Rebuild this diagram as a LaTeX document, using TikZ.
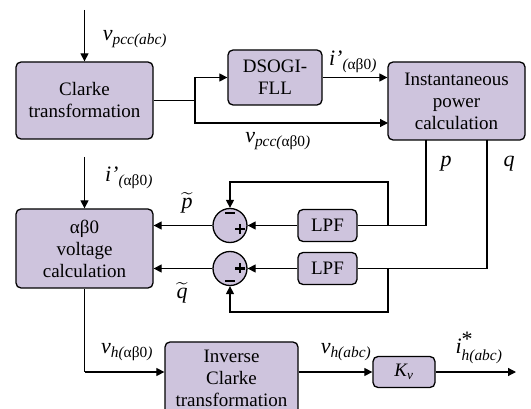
\documentclass[tikz,border=0pt]{standalone}
\usepackage{amsmath}
\usepackage{fontspec}
\setmainfont{Liberation Serif}
\usetikzlibrary{arrows.meta}
\definecolor{boxfill}{RGB}{206,196,221}
\begin{document}
\begin{tikzpicture}[x=1pt,y=-1pt,
  blk/.style={draw, line width=1.3pt, rounded corners=5pt, fill=boxfill, align=center,
    font=\fontsize{19}{22}\selectfont, inner sep=0pt},
  sumj/.style={draw, line width=1.3pt, circle, fill=boxfill, minimum size=34pt, inner sep=0pt},
  wire/.style={line width=1.2pt},
  arr/.style={wire, -{Triangle[length=8pt,width=8pt]}},
  lab/.style={font=\fontsize{22}{22}\selectfont, inner sep=0pt},
  sgn/.style={line width=2.2pt}]
\useasboundingbox (0,0) rectangle (531,409);

% blocks
\node[blk, minimum width=137pt, minimum height=77pt] (clarke) at (84.5,100.5) {Clarke\\transformation};
\node[blk, minimum width=94pt, minimum height=55pt] (dsogi) at (275,77.5) {DSOGI-\\FLL};
\node[blk, minimum width=137pt, minimum height=78pt] (inst) at (456.5,101) {Instantaneous\\power\\calculation};
\node[blk, minimum width=59pt, minimum height=32pt] (lpf1) at (327.5,225.5) {LPF};
\node[blk, minimum width=59pt, minimum height=32pt] (lpf2) at (327.5,268.5) {LPF};
\node[blk, minimum width=137pt, minimum height=79pt] (abv) at (84.5,248.5) {αβ0\\voltage\\calculation};
\node[blk, minimum width=133pt, minimum height=72pt, text depth=0pt] (inv) at (231.5,378) {Inverse\\Clarke\\transformation};
\node[blk, minimum width=62pt, minimum height=31pt] (kv) at (404,372) {$\textit{K}_{\textit{v}}$};

\node[sumj] (sum1) at (230,225.5) {};
\node[sumj] (sum2) at (230,268.5) {};

% signs
\draw[sgn] (225,213) -- (235,213);
\draw[sgn] (235,229) -- (245,229) (240,224) -- (240,234);
\draw[sgn] (235,268.5) -- (245,268.5) (240,263.5) -- (240,273.5);
\draw[sgn] (225,281) -- (235,281);

% coordinates
\coordinate (in1) at (84.5,10);
\coordinate (br1) at (195,100.5);
\coordinate (vin) at (388,123);
\coordinate (ptop) at (426,140);
\coordinate (qtop) at (487,140);
\coordinate (fb1) at (388,225.5);
\coordinate (fb1t) at (388,182);
\coordinate (fb2) at (388,268.5);
\coordinate (fb2b) at (388,312);
\coordinate (in2) at (84.5,157);
\coordinate (vh) at (84.5,372);
\coordinate (out) at (516,372);

% connectors
\draw[arr] (in1) -- (clarke.north);
\draw[wire] (clarke.east) -- (br1);
\draw[arr] (br1) |- (dsogi.west);
\draw[arr] (br1) |- (vin);
\draw[arr] (dsogi.east) -- (dsogi.east -| inst.west);
\draw[wire] (ptop) |- (lpf1.east);
\draw[wire] (qtop) |- (lpf2.east);
\draw[arr] (fb1) -- (fb1t) -| (sum1.north);
\draw[arr] (fb2) -- (fb2b) -| (sum2.south);
\draw[arr] (lpf1.west) -- (sum1.east);
\draw[arr] (lpf2.west) -- (sum2.east);
\draw[arr] (sum1.west) -- (sum1.west -| abv.east);
\draw[arr] (sum2.west) -- (sum2.west -| abv.east);
\draw[arr] (in2) -- (abv.north);
\draw[wire] (abv.south) -- (vh);
\draw[arr] (vh) -- (vh -| inv.west);
\draw[arr] (vh -| inv.east) -- (kv.west);
\draw[arr] (kv.east) -- (out);

% labels
\node[lab] (l1) at (135,39) {$\textit{v}_{\textit{pcc(abc)}}$};
\node[lab] (l2) at (353,62) {$\textit{i’}_{\textit{(}\textrm{αβ0}\textit{)}}$};
\node[lab] (l3) at (278,141) {$\textit{v}_{\textit{pcc(}\textrm{αβ0}\textit{)}}$};
\node[lab] (l4) at (129,178) {$\textit{i’}_{\textit{(}\textrm{αβ0}\textit{)}}$};
\node[lab] (l5) at (446,164) {$\textit{p}$};
\node[lab] (l6) at (509,164) {$\textit{q}$};
\node[lab] (l7) at (187,203) {$\widetilde{\textit{p}}$};
\node[lab] (l8) at (182,293) {$\widetilde{\textit{q}}$};
\node[lab] (l9) at (127,352) {$\textit{v}_{\textit{h(}\textrm{αβ0}\textit{)}}$};
\node[lab] (l10) at (346,352) {$\textit{v}_{\textit{h(abc)}}$};
\node[lab] (l11) at (479,348) {$\textit{i}^{\raisebox{-3pt}{*}}_{\textit{h(abc)}}$};
\end{tikzpicture}
\end{document}
